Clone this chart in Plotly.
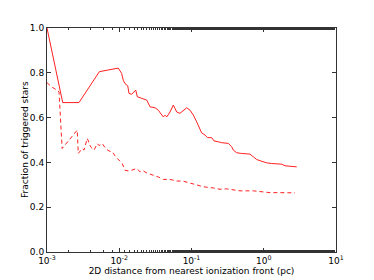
import plotly.graph_objects as go

solid_x = [0.001, 1.65e-3, 2.77e-3, 5.3e-3, 9.7e-3, 0.0108, 0.01137, 0.0120, 0.0131, 0.01365,
           0.01486, 0.01615, 0.0169, 0.0178, 0.0205, 0.0240, 0.0267, 0.0313, 0.0347, 0.0387,
           0.0407, 0.0430, 0.0454, 0.0504, 0.0560, 0.0591, 0.0624, 0.0693, 0.0769, 0.0858,
           0.0953, 0.106, 0.118, 0.131, 0.138, 0.154, 0.166, 0.191, 0.205, 0.235, 0.262,
           0.323, 0.360, 0.379, 0.423, 0.495, 0.645, 0.717, 0.798, 0.937, 1.10, 1.29, 1.77,
           1.97, 2.44, 2.86]
solid_y = [1.0, 0.667, 0.667, 0.805, 0.821, 0.797, 0.767, 0.752, 0.742, 0.708,
           0.704, 0.715, 0.723, 0.693, 0.686, 0.678, 0.648, 0.644, 0.633, 0.611,
           0.603, 0.611, 0.603, 0.625, 0.656, 0.641, 0.625, 0.619, 0.633, 0.644,
           0.633, 0.611, 0.581, 0.551, 0.532, 0.522, 0.511, 0.510, 0.496, 0.492, 0.488,
           0.485, 0.470, 0.455, 0.443, 0.440, 0.437, 0.425, 0.413, 0.405, 0.398, 0.395, 0.392,
           0.385, 0.383, 0.380]

dash_x = [0.001, 1.148e-3, 1.319e-3, 1.466e-3, 1.62e-3, 2.62e-3, 2.71e-3, 3.08e-3, 3.25e-3,
          3.61e-3, 4.03e-3, 4.48e-3, 4.97e-3, 5.25e-3, 5.82e-3, 6.49e-3, 7.21e-3, 8.01e-3,
          8.93e-3, 9.93e-3, 0.0110, 0.0120, 0.0133, 0.0149, 0.0174, 0.0194, 0.0215, 0.0240,
          0.0296, 0.0347, 0.0407, 0.0504, 0.0624, 0.0770, 0.0953, 0.118, 0.146, 0.200, 0.248,
          0.307, 0.360, 0.469, 0.717, 0.937, 1.22, 1.68, 2.71]
dash_y = [0.756, 0.738, 0.726, 0.715, 0.462, 0.544, 0.440, 0.462, 0.455,
          0.507, 0.469, 0.455, 0.484, 0.475, 0.484, 0.462, 0.451, 0.447,
          0.425, 0.410, 0.395, 0.365, 0.362, 0.365, 0.373, 0.358, 0.362, 0.353,
          0.343, 0.335, 0.324, 0.324, 0.317, 0.316, 0.308, 0.301, 0.291, 0.286, 0.280,
          0.282, 0.279, 0.273, 0.273, 0.268, 0.265, 0.265, 0.264]

x_tickvals = [1e-3, 1e-2, 1e-1, 1e0, 1e1]
x_ticktext = ["10<sup>-3</sup>", "10<sup>-2</sup>", "10<sup>-1</sup>", "10<sup>0</sup>", "10<sup>1</sup>"]
y_tickvals = [0.0, 0.2, 0.4, 0.6, 0.8, 1.0]
y_ticktext = ["0.0", "0.2", "0.4", "0.6", "0.8", "1.0"]

fig = go.Figure()
fig.add_trace(go.Scatter(x=solid_x, y=solid_y, mode="lines",
                         line=dict(color="#ff2020", width=1)))
fig.add_trace(go.Scatter(x=dash_x, y=dash_y, mode="lines",
                         line=dict(color="#ff2020", width=1, dash="4px,3px")))

font = dict(family="DejaVu Sans", size=9, color="black")
fig.update_layout(
    width=374, height=280,
    margin=dict(l=47, r=38, t=28, b=28, autoexpand=False),
    paper_bgcolor="white", plot_bgcolor="white",
    showlegend=False,
    font=font,
    xaxis=dict(type="log", range=[-3, 1], tickvals=x_tickvals, ticktext=x_ticktext,
               ticks="inside", ticklen=4, tickcolor="#333", showline=True,
               linecolor="#333", linewidth=1, mirror="allticks", showgrid=False,
               zeroline=False, automargin=False,
               minor=dict(ticks="inside", ticklen=2, tickcolor="#333", showgrid=False),
               title=dict(text="2D distance from nearest ionization front (pc)",
                          font=dict(size=9), standoff=2),
               tickfont=dict(size=9)),
    yaxis=dict(range=[0, 1], tickvals=y_tickvals, ticktext=y_ticktext,
               ticks="inside", ticklen=4, tickcolor="#333", showline=True,
               linecolor="#333", linewidth=1, mirror="allticks", showgrid=False,
               zeroline=False, automargin=False,
               tickfont=dict(size=9)),
    annotations=[dict(text="Fraction of triggered stars", xref="paper", yref="paper",
                      x=-0.076, y=0.5, xanchor="center", yanchor="middle",
                      textangle=-90, showarrow=False, font=dict(size=9))],
)

fig.write_html("out.html", config={"displayModeBar": False},
               post_script="document.body.style.margin='0';")
